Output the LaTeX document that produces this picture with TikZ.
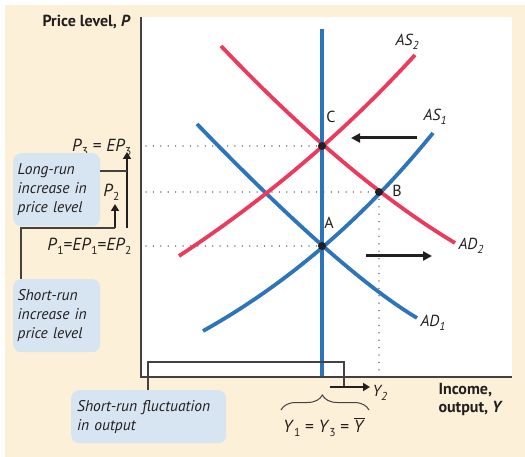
\documentclass[tikz,border=0pt]{standalone}
\usepackage{fontspec}
\setmainfont{PT Sans}
\usetikzlibrary{decorations.pathreplacing,arrows.meta}
\definecolor{cream}{HTML}{FDF0D9}
\definecolor{boxblue}{HTML}{D7E5F2}
\definecolor{lineblue}{HTML}{2E74B9}
\definecolor{linered}{HTML}{EB3A5C}
\definecolor{ink}{HTML}{231F20}
\newcommand\lo[1]{\raisebox{-0.45ex}{\fontsize{11.5}{11.5}\selectfont #1}}
\begin{document}
\begin{tikzpicture}[x=1pt,y=-1pt,
  every node/.style={text=ink},
  bluecurve/.style={draw=lineblue,line width=3.8pt},
  redcurve/.style={draw=linered,line width=3.8pt},
  axisline/.style={draw=ink!85,line width=1.4pt},
  dotline/.style={draw=gray,line width=1.5pt,dash pattern=on 0.01pt off 7.4pt,line cap=round},
  bigarrow/.style={draw=ink,line width=3pt,-{Triangle[length=9pt,width=9pt]}},
  thinline/.style={draw=ink!85,line width=1.2pt},
  infobox/.style={fill=boxblue,rounded corners=8pt,anchor=north west,align=left,
     font=\itshape\fontsize{15.5}{19}\selectfont,inner ysep=0pt},
  lab/.style={font=\itshape\fontsize{16}{16}\selectfont},
  plab/.style={font=\fontsize{17.5}{17.5}\selectfont},
  axlab/.style={font=\bfseries\fontsize{16}{18}\selectfont},
  ptlab/.style={font=\fontsize{16}{16}\selectfont},
  dot/.style={circle,fill=ink,inner sep=0pt,minimum size=8pt}]
\useasboundingbox (0,0) rectangle (525,457);
\fill[cream] (5,5) rectangle (525,457);
\fill[white] (141,17) rectangle (512,377);

% key points
\coordinate (A) at (322,246);
\coordinate (B) at (379,192);
\coordinate (C) at (322,146);
\coordinate (p3) at (146,146);
\coordinate (p2) at (146,192);
\coordinate (p1) at (146,246);
\coordinate (bx) at (379,377);

% dotted guide lines
\draw[dotline] (p3) -- (C);
\draw[dotline] (p2) -- (B);
\draw[dotline] (p1) -- (A);
\draw[dotline] (B) -- (bx);

% curves
\draw[bluecurve] (197,124) .. controls (292.3,222.7) and (365.7,287.3) .. (417,318);
\draw[bluecurve] (203,331) .. controls (287.7,283.7) and (364.3,217.7) .. (433,133);
\draw[redcurve] (221,46) .. controls (304.9,134.1) and (382.9,199.7) .. (455,243);
\draw[redcurve] (179,256) .. controls (266.3,198.7) and (345,131.7) .. (415,55);
\coordinate (lrtop) at (322,29);
\coordinate (lrbot) at (322,377);
\draw[bluecurve] (lrtop) -- (lrbot);

% axes
\coordinate (o) at (141,377);
\draw[axisline] (141,17) -- (o) -- (512,377);

% points
\node[dot] at (A) {};
\node[dot] at (B) {};
\node[dot] at (C) {};
\node[ptlab] at (331,117) {C};
\node[ptlab] at (397,191) {B};
\node[ptlab] at (329,223) {A};

% curve labels
\node[lab] at (407,42) {\textit{AS}\lo{2}};
\node[lab] at (435,117) {\textit{AS}\lo{1}};
\node[lab,anchor=west] at (455,246) {\textit{AD}\lo{2}};
\node[lab,anchor=west] at (417,323) {\textit{AD}\lo{1}};

% shift arrows
\coordinate (ls) at (417,138); \coordinate (le) at (351,138);
\draw[bigarrow] (ls) -- (le);
\coordinate (rs) at (366,256); \coordinate (re) at (432,256);
\draw[bigarrow] (rs) -- (re);

% axis labels
\node[axlab,anchor=east] at (134,22) {Price level, \textit{P}};
\node[axlab,anchor=north west,align=left] at (435,380) {Income,\\output, \textit{Y}};

% price labels
\node[plab,anchor=east] (lp3) at (135,147) {\textit{P}\lo{3} = \textit{EP}\lo{3}};
\node[plab,anchor=east] (lp2) at (123,192) {\textit{P}\lo{2}};
\node[plab,anchor=east] (lp1) at (135,246) {\textit{P}\lo{1}=\textit{EP}\lo{1}=\textit{EP}\lo{2}};

% vertical arrows on the left
\coordinate (ba0) at (127,228); \coordinate (ba1) at (127,152);
\coordinate (sa0) at (115,228); \coordinate (sa1) at (115,204);
\draw[bigarrow,line width=2.6pt,-{Triangle[length=7pt,width=8pt]}] (ba0) -- (ba1);
\draw[bigarrow,line width=2.6pt,-{Triangle[length=7pt,width=8pt]}] (sa0) -- (sa1);

% info boxes
\node[infobox,minimum width=87pt,minimum height=73pt,text width=78pt,inner xsep=4.5pt] (lr) at (13,153)
  {Long-run\\increase in\\price level};
\node[infobox,minimum width=87pt,minimum height=73pt,text width=78pt,inner xsep=4.5pt] (sr) at (13,279)
  {Short-run\\increase in\\price level};
\node[infobox,minimum width=155pt,minimum height=53pt,text width=143pt,inner xsep=6pt] (sf) at (71,390)
  {Short-run fluctuation\\in output};

% connectors
\coordinate (lrj) at (127,171);
\draw[thinline] (lr.east |- lrj) -- (lrj);
\coordinate (srk) at (21,228);
\draw[thinline] (sr.north -| srk) -- (srk) -- (sa0);
\coordinate (sfk1) at (148,362);
\coordinate (sfk2) at (344,362);
\coordinate (sfk3) at (344,387);
\draw[thinline] (sf.north -| sfk1) -- (sfk1) -- (sfk2) -- (sfk3);
\coordinate (ya0) at (330,387); \coordinate (ya1) at (370,387);
\draw[bigarrow,line width=2.6pt,-{Triangle[length=7pt,width=8pt]}] (ya0) -- (ya1);
\node[lab,anchor=west] at (369,393) {\textit{Y}\lo{2}};

% brace
\coordinate (br0) at (281,410); \coordinate (br1) at (369,410);
\draw[thinline,line width=1pt,decorate,decoration={brace,amplitude=15pt,aspect=0.47}] (br0) -- (br1);
\node[plab] at (324,427) {\textit{Y}\lo{1} = \textit{Y}\lo{3} = $\overline{\mbox{\textit{Y}}}$};
\end{tikzpicture}
\end{document}
